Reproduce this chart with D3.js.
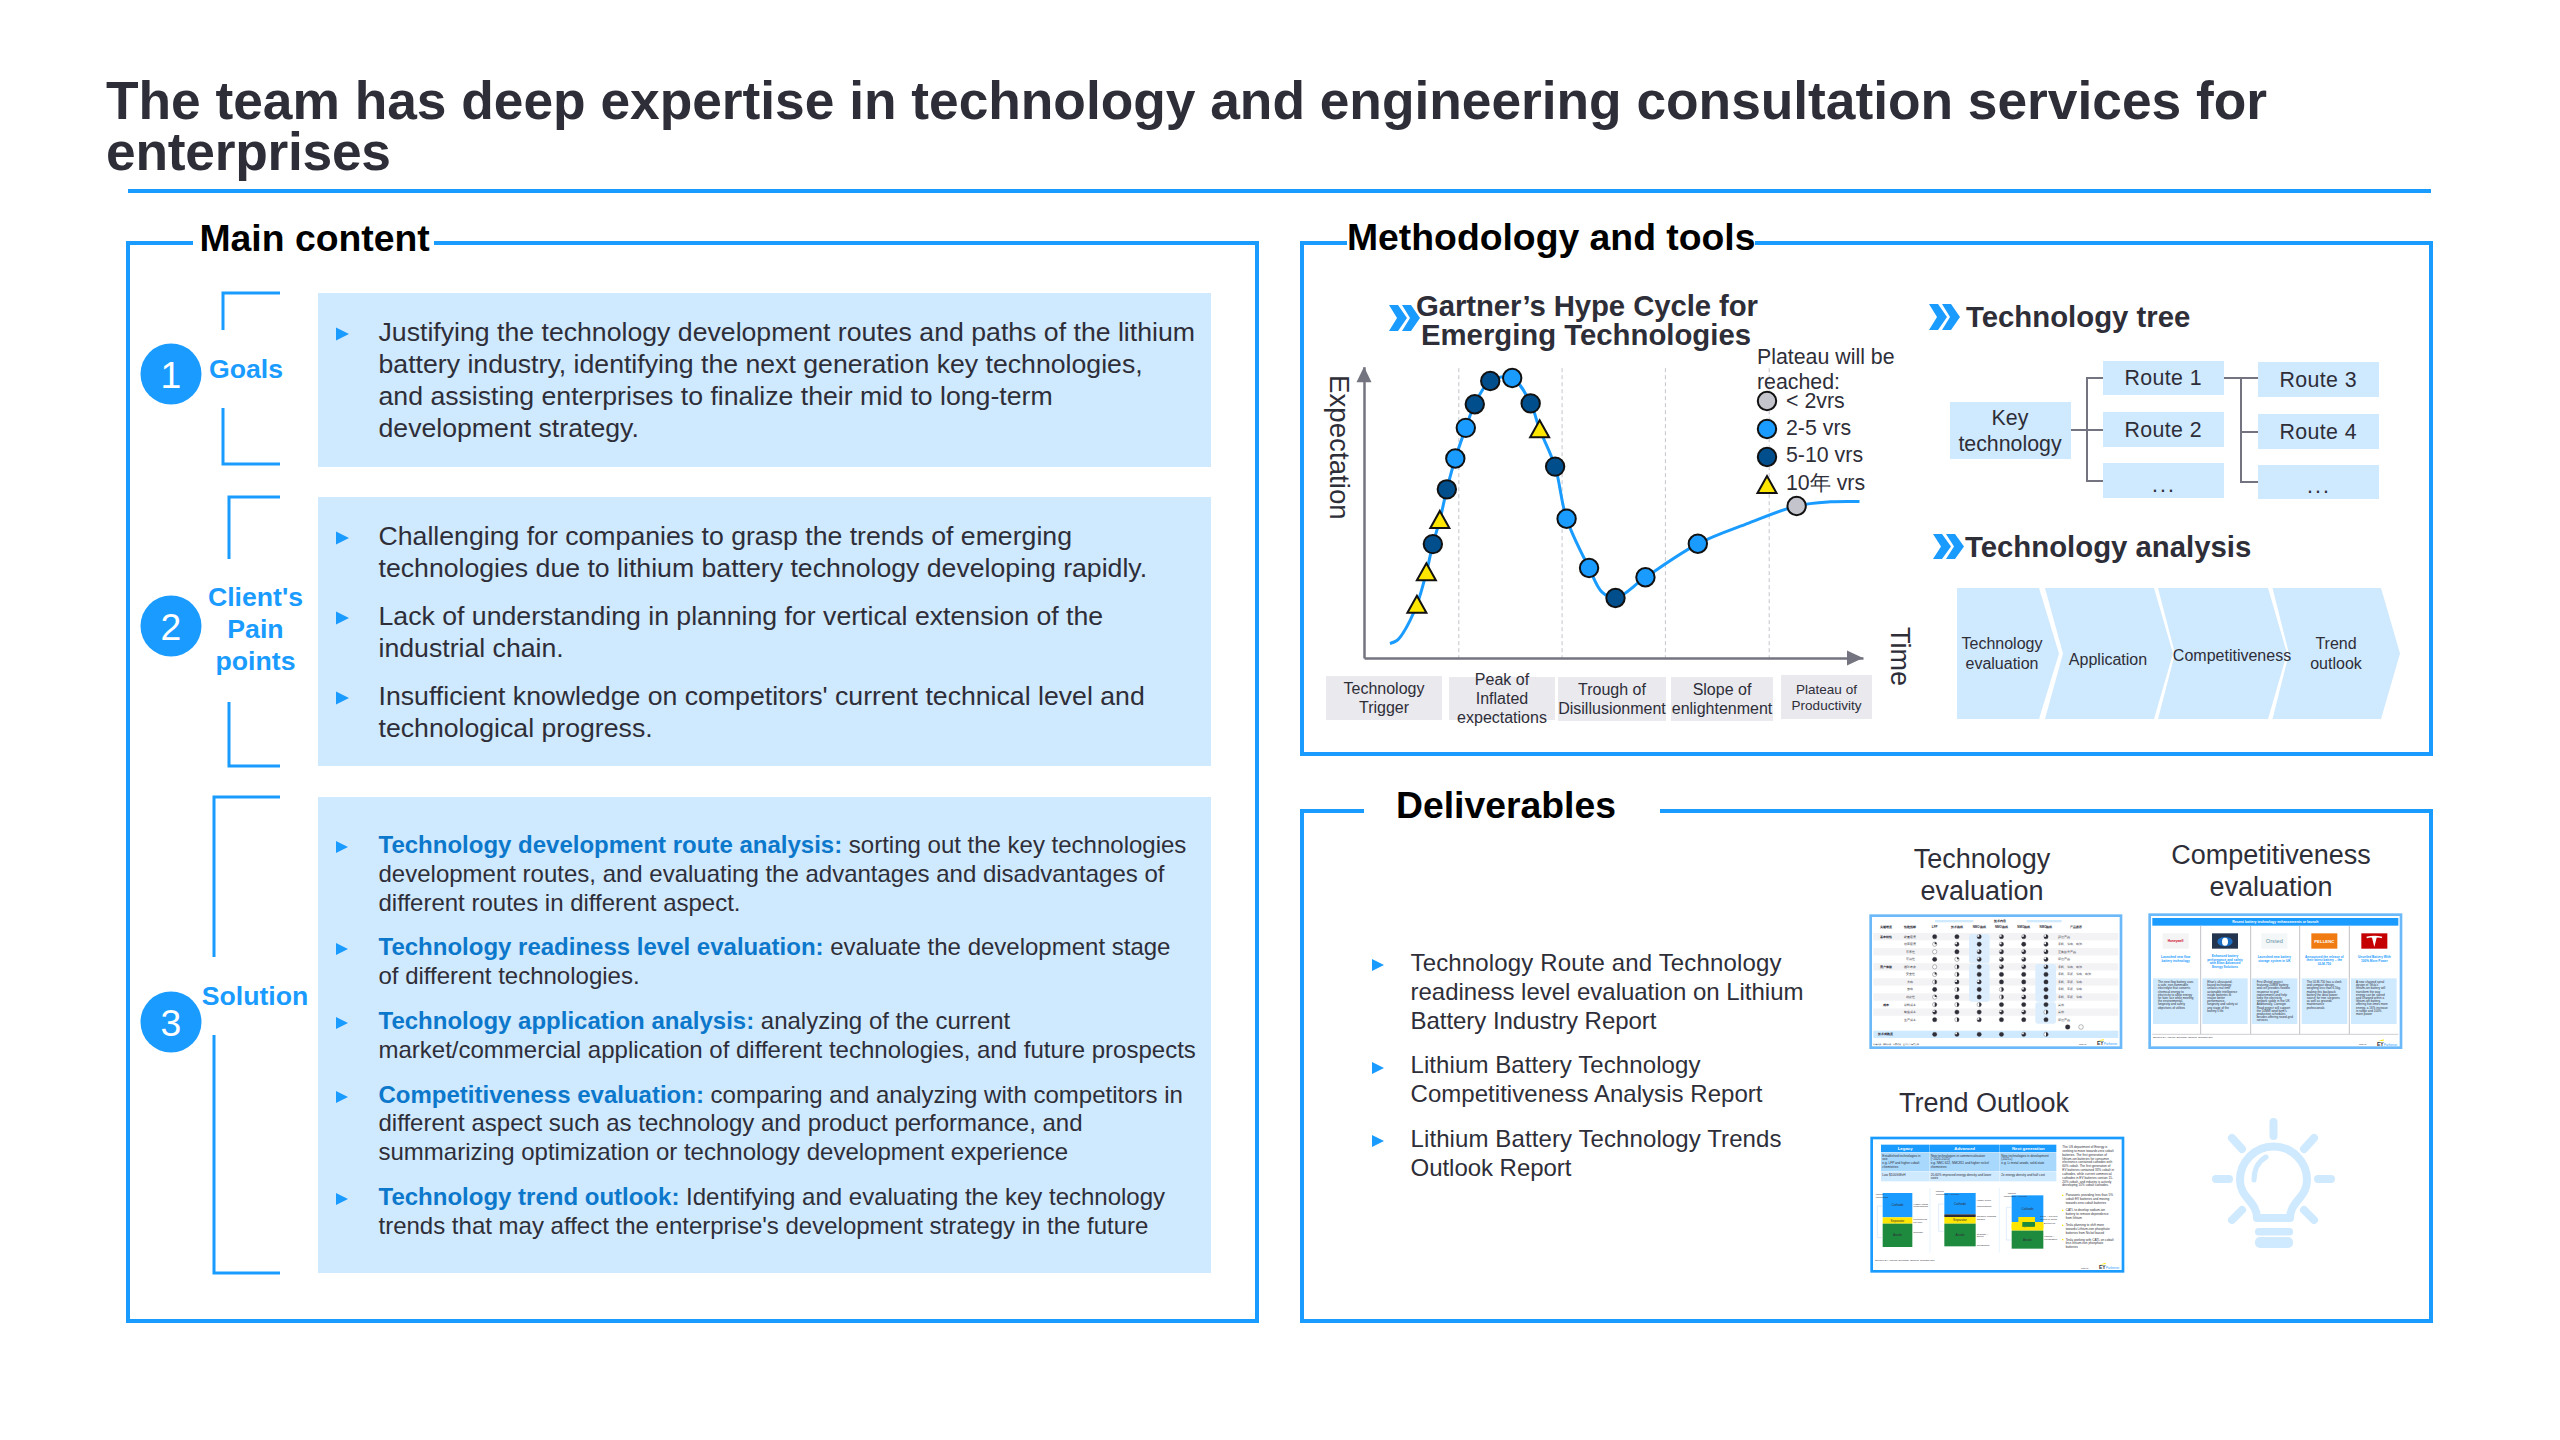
<!DOCTYPE html>
<html>
<head>
<meta charset="utf-8">
<script src="https://d3js.org/d3.v7.min.js"></script>
<style>
  html, body { margin: 0; padding: 0; background: #fff; }
  svg { display: block; }
  text { font-family: "Liberation Sans", Arial, sans-serif; fill: #2E2E38; }
</style>
</head>
<body>
<div id="chart"></div>
<script>
// ---- data ----
const titleLines = [
    "The team has deep expertise in technology and engineering consultation services for",
    "enterprises"
];
const goalLines = [
    "Justifying the technology development routes and paths of the lithium",
    "battery industry, identifying the next generation key technologies,",
    "and assisting enterprises to finalize their mid to long-term",
    "development strategy."
];
const painLines = [
    "Challenging for companies to grasp the trends of emerging",
    "technologies due to lithium battery technology developing rapidly.",
    "Lack of understanding in planning for vertical extension of the",
    "industrial chain.",
    "Insufficient knowledge on competitors' current technical level and",
    "technological progress."
];
const solutionLeads = [
    "Technology development route analysis:", "", "",
    "Technology readiness level evaluation:", "",
    "Technology application analysis:", "",
    "Competitiveness evaluation:", "", "",
    "Technology trend outlook:", ""
];
const solutionRest = [
    " sorting out the key technologies",
    "development routes, and evaluating the advantages and disadvantages of",
    "different routes in different aspect.",
    " evaluate the development stage",
    "of different technologies.",
    " analyzing of the current",
    "market/commercial application of different technologies, and future prospects",
    " comparing and analyzing with competitors in",
    "different aspect such as technology and product performance, and",
    "summarizing optimization or technology development experience",
    " Identifying and evaluating the key technology",
    "trends that may affect the enterprise's development strategy in the future"
];
const deliverableLines = [
    "Technology Route and Technology",
    "readiness level evaluation on Lithium",
    "Battery Industry Report",
    "Lithium Battery Technology",
    "Competitiveness Analysis Report",
    "Lithium Battery Technology Trends",
    "Outlook Report"
];

// hype cycle: time and expectation as % of the axes
const hypeTime   = [10.6, 12.5, 13.8, 15.2, 16.6, 18.3, 20.4, 22.2, 25.3, 29.7, 33.4, 35.2, 38.3, 40.6, 45.1, 50.4, 56.4, 66.9, 86.7];
const hypeExpect = [18.3, 29.4, 39.1, 47.4, 57.9, 68.5, 79.0, 87.1, 95.1, 96.1, 87.4, 78.5, 65.7, 47.8, 30.9, 20.6, 27.7, 39.2, 52.2];
const hypeClass  = ["d", "d", "c", "d", "c", "b", "b", "c", "c", "b", "c", "d", "c", "b", "b", "c", "b", "b", "a"];
const curveTime   = [5.2, 6.6, 7.8, 10.6, 12.5, 13.8, 15.2, 16.6, 18.3, 20.4, 22.2, 25.3, 29.7, 33.4, 35.2, 38.3, 40.6, 45.1, 47.7, 50.4, 56.4, 66.9, 77.1, 86.7, 93.5, 99.3];
const curveExpect = [5.0, 6.0, 8.5, 18.3, 29.4, 39.1, 47.4, 57.9, 68.5, 79.0, 87.1, 95.1, 96.1, 87.4, 78.5, 65.7, 47.8, 30.9, 22.6, 20.6, 27.7, 39.2, 46.3, 52.2, 53.6, 53.7];
const phaseBounds = [19, 39.7, 60.4, 81.2];
const legendTitle = ["Plateau will be", "reached:"];
const legendClasses = ["a", "b", "c", "d"];
const legendLabels = ["< 2vrs", "2-5 vrs", "5-10 vrs", "10年 vrs"];
const phaseLabels = [
    ["Technology", "Trigger"],
    ["Peak of", "Inflated", "expectations"],
    ["Trough of", "Disillusionment"],
    ["Slope of", "enlightenment"],
    ["Plateau of", "Productivity"]
];
const chevronLabels = [["Technology", "evaluation"], ["Application"], ["Competitiveness"], ["Trend", "outlook"]];

// thumbnail 1: harvey balls, 0-4 quarters filled
const harveyCols = ["LFP", "技术路线", "NMO路线", "NMO路线", "NMO路线", "NMO路线"];
const harveyRows = ["能量密度", "功率密度", "可靠性", "可用性", "循环寿命", "安全性", "充电", "放电", "稳定性", "材料成本", "制造成本", "生产成本", "技术成熟度"];
const harveyLevels = [
    [4, 4, 3, 3, 3, 3],
    [1, 3, 4, 3, 4, 3],
    [0, 4, 3, 3, 3, 3],
    [4, 1, 3, 3, 3, 3],
    [0, 2, 4, 3, 3, 3],
    [1, 2, 4, 4, 4, 4],
    [2, 3, 3, 4, 4, 4],
    [4, 2, 4, 2, 3, 4],
    [1, 4, 4, 2, 3, 4],
    [2, 2, 2, 4, 4, 4],
    [3, 4, 4, 3, 3, 2],
    [4, 2, 3, 4, 4, 4],
    [4, 3, 4, 4, 3, 2]
];
const harveyUse = ["評估产品", "手机、笔电、电池", "更换提升产品", "评估产品", "手机、笔电、电池", "手机、平板、笔电、电池", "手机、平板、笔电", "手机、平板、笔电", "手机、平板、笔电", "其他", "其他", "评估产品", ""];

// thumbnail 2
const vendorHeads = [
    ["Launched new flow", "battery technology"],
    ["Enhanced battery", "performance and safety", "with Eltan Advanced", "Energy Solutions"],
    ["Launched new battery", "storage system in UK"],
    ["Announced the release of", "their latest battery – the", "ULM-750"],
    ["Unveiled Battery With", "100% More Power"]
];
const vendorBodies = [
    ["The new flow battery uses", "a safe, non-flammable", "electrolyte that converts", "chemical energy to", "electricity to allow energy", "for later use while meeting", "the environmental,", "longevity and safety", "objectives of utilities"],
    ["Eltan's ultrasound-", "based technology", "unlocks real time", "actionable intelligence", "inside batteries to", "realize better", "performance,", "longevity and safety at", "any stage of the", "battery's life"],
    ["First Ørsted project", "featuring 20MW battery", "and cell provides flexible", "response to grid", "requirements and help", "keep the electricity", "network stable in the UK", "Additionally, Carnegie", "Road project will support", "the 50MW wind farm's", "production schedules", "besides offering round-grid", "services"],
    ["The ULM-750 has a sleek", "and compact design,", "weighing less than 6.5kg,", "making this backpack", "battery the ideal power", "source for tree surgeons", "as well as grounds", "maintenance", "professionals"],
    ["A new charged spiral", "design of Tesla's", "lithium-ion battery will", "transform the way", "energy can be stored", "and charged within a", "lithium-ion battery,", "offering five-times more", "energy, a 16% increase", "in range and 100%", "more power"]
];

// thumbnail 3
const trendHeads = ["Legacy", "Advanced", "Next generation"];
const trendRow1 = [
    ["Established technologies in", "use", "e.g. LFP and higher cobalt", "chemistries"],
    ["New technologies in commercialisation", "(~2020-2025)", "e.g. NMC 622, NMC811 and higher nickel", "chemistries"],
    ["New technologies in development", "(2025+)", "e.g. Li metal anode, solid-state"]
];
const trendRow2 = [
    ["Low $100/kWeH"],
    ["20-60% improved energy density and lower", "costs"],
    ["2x energy density and half cost"]
];
const trendText = [
    "The US department of Energy is", "seeking to move towards zero cobalt", "batteries. The first generation of",
    "lithium-ion batteries for consumer", "electronics contained cathodes with", "60% cobalt. The first generation of",
    "EV batteries contained 33% cobalt in", "cathodes, while current commercial", "cathodes in EV batteries contain 15-",
    "20% cobalt, and industry is actively", "developing 10% cobalt cathodes."
];
const trendBullets = [
    ["Panasonic providing less than 5%", "cobalt EV batteries and moving", "towards zero cobalt batteries"],
    ["CATL to develop sodium-ion", "battery to remove dependence", "from lithium"],
    ["Tesla planning to shift more", "towards Lithium-iron phosphate", "batteries from Nickel based"],
    ["Tesla working with CATL on cobalt", "less lithium-iron phosphate", "batteries"]
];

// ---- colours ----
const blue = "#1A9BFF";
const pale = "#CFE9FE";
const ink = "#2E2E38";
const steel = "#747480";
const leadBlue = "#0C78CC";
const band = "#E9E9EE";

const svg = d3.select("#chart").append("svg")
    .attr("width", 2560)
    .attr("height", 1440)
    .attr("viewBox", "0 0 2560 1440");

// ---- small helpers ----
function txt(parent, x, y, str, size, opts = {}) {
    const t = parent.append("text")
        .attr("x", x)
        .attr("y", y)
        .attr("font-size", size)
        .attr("font-weight", opts.bold ? 700 : 400)
        .attr("text-anchor", opts.anchor || "start")
        .style("fill", opts.fill || ink)
        .text(str);
    if (opts.length) t.attr("textLength", opts.length).attr("lengthAdjust", "spacing");
    return t;
}

function centered(parent, x, ys, lines, size, opts = {}) {
    lines.forEach((l, i) => txt(parent, x, ys[i], l, size, { ...opts, anchor: "middle" }));
}

function bullet(parent, x, cy, w, h) {
    parent.append("path")
        .attr("d", `M${x},${cy - h / 2}L${x + w},${cy}L${x},${cy + h / 2}Z`)
        .attr("fill", blue);
}

function doubleChevron(parent, x, y, h) {
    [0, 13].forEach(dx => {
        const x0 = x + dx;
        parent.append("path")
            .attr("d", `M${x0},${y}h9l9,${h / 2}l-9,${h / 2}h-9l8,${-h / 2}Z`)
            .attr("fill", blue);
    });
}

function polyline(parent, pts, color, width) {
    parent.append("path")
        .attr("d", d3.line()(pts))
        .attr("fill", "none")
        .attr("stroke", color)
        .attr("stroke-width", width);
}

// ---- title ----
txt(svg, 106, 119, titleLines[0], 53.33, { bold: true, length: 2161 });
txt(svg, 106, 170, titleLines[1], 53.33, { bold: true, length: 285 });
polyline(svg, [[128, 191], [2431, 191]], blue, 4);

// ---- framed sections: rectangle with a heading breaking the top line ----
function frame(x0, y0, x1, y1, label, labelX, gapX0, gapX1, baseline) {
    svg.append("rect")
        .attr("x", x0).attr("y", y0)
        .attr("width", x1 - x0).attr("height", y1 - y0)
        .attr("fill", "none")
        .attr("stroke", blue)
        .attr("stroke-width", 4);
    svg.append("rect")
        .attr("x", gapX0).attr("y", y0 - 4)
        .attr("width", gapX1 - gapX0).attr("height", 8)
        .attr("fill", "#fff");
    txt(svg, labelX, baseline, label, 37.33, { bold: true, fill: "#000" });
}
frame(128, 243, 1257, 1321, "Main content", 199.5, 193, 434, 250.5);
frame(1302, 243, 2431, 754, "Methodology and tools", 1347, 1347, 1755, 250);
frame(1302, 811, 2431, 1321, "Deliverables", 1396, 1364, 1660, 818);

// ---- left column ----
const panelX0 = 318, panelX1 = 1211;
[[293, 467], [497, 766], [797, 1273]].forEach(([a, b]) => {
    svg.append("rect")
        .attr("x", panelX0).attr("y", a)
        .attr("width", panelX1 - panelX0).attr("height", b - a)
        .attr("fill", pale);
});

function bracket(x, top, topEnd, lowStart, bottom) {
    polyline(svg, [[280, top], [x, top], [x, topEnd]], blue, 3);
    polyline(svg, [[x, lowStart], [x, bottom], [280, bottom]], blue, 3);
}
bracket(223, 293, 330, 408, 464);
bracket(229, 497, 559, 702, 766);
bracket(214, 797, 957, 1035, 1273);

[[374, "1"], [626, "2"], [1022, "3"]].forEach(([cy, n]) => {
    svg.append("circle").attr("cx", 171).attr("cy", cy).attr("r", 30.5).attr("fill", blue);
    txt(svg, 171, cy + 13.5, n, 37.33, { anchor: "middle", fill: "#fff" });
});

txt(svg, 246, 378, "Goals", 26.67, { bold: true, anchor: "middle", fill: blue });
centered(svg, 255.5, [606, 638, 670], ["Client's", "Pain", "points"], 26.67, { bold: true, fill: blue });
txt(svg, 255, 1005, "Solution", 26.67, { bold: true, anchor: "middle", fill: blue });

const bodyX = 378.5;
[341, 373, 405, 437].forEach((y, i) => txt(svg, bodyX, y, goalLines[i], 26.67));
[545, 577, 625, 657, 705, 737].forEach((y, i) => txt(svg, bodyX, y, painLines[i], 26.67));
[334, 538, 618, 698].forEach(cy => bullet(svg, 336, cy, 13, 13));

[853, 882, 911, 955, 984, 1029, 1058, 1103, 1131, 1160, 1205, 1234].forEach((y, i) => {
    const t = svg.append("text")
        .attr("x", bodyX).attr("y", y)
        .attr("font-size", 24)
        .attr("xml:space", "preserve")
        .style("white-space", "pre");
    if (solutionLeads[i]) {
        t.append("tspan").attr("font-weight", 700).style("fill", leadBlue).text(solutionLeads[i]);
    }
    t.append("tspan").style("fill", ink).text(solutionRest[i]);
});
[847, 949, 1023, 1097, 1199].forEach(cy => bullet(svg, 336, cy, 12, 12));

// ---- hype cycle ----
const xTime = d3.scaleLinear().domain([0, 100]).range([1364, 1863]);
const yExp = d3.scaleLinear().domain([0, 100]).range([658, 366.7]);
const markerFill = d3.scaleOrdinal().domain(legendClasses).range(["#C4C4CD", blue, "#004F8C", "#FFE600"]);

doubleChevron(svg, 1389, 305, 26);
txt(svg, 1416, 315.5, "Gartner’s Hype Cycle for", 29.33, { bold: true, length: 342 });
txt(svg, 1421, 344.5, "Emerging Technologies", 29.33, { bold: true, length: 330 });

const hype = svg.append("g");

phaseBounds.forEach(t => {
    hype.append("line")
        .attr("x1", xTime(t)).attr("x2", xTime(t))
        .attr("y1", yExp(99.5)).attr("y2", yExp(0))
        .attr("stroke", "#C4C4CD")
        .attr("stroke-width", 1)
        .attr("stroke-dasharray", "4,3");
});

// axes carry no ticks, only the domain line
const xAxisG = hype.append("g").attr("transform", `translate(0,${yExp(0)})`)
    .call(d3.axisBottom(xTime).tickValues([]).tickSize(0).tickSizeOuter(0));
const yAxisG = hype.append("g").attr("transform", `translate(${xTime(0)},0)`)
    .call(d3.axisLeft(yExp).tickValues([]).tickSize(0).tickSizeOuter(0));
[xAxisG, yAxisG].forEach(g => g.select(".domain").attr("stroke", steel).attr("stroke-width", 2.5));
// arrow heads end where the axes end
hype.append("path")
    .attr("d", `M${xTime(100) - 16},${yExp(0) - 7.5}l16,7.5l-16,7.5Z`)
    .attr("fill", steel);
hype.append("path")
    .attr("d", `M${xTime(0) - 7.5},${yExp(100) + 15.5}l7.5,-15.5l7.5,15.5Z`)
    .attr("fill", steel);

hype.append("path")
    .attr("d", d3.line()
        .x((d, i) => xTime(curveTime[i]))
        .y((d, i) => yExp(curveExpect[i]))
        .curve(d3.curveCatmullRom.alpha(0.5))(curveTime))
    .attr("fill", "none")
    .attr("stroke", blue)
    .attr("stroke-width", 3);

function marker(parent, cx, cy, cls) {
    if (cls === "d") {
        parent.append("path")
            .attr("d", `M${cx},${cy - 9}L${cx + 9.5},${cy + 8}L${cx - 9.5},${cy + 8}Z`)
            .attr("fill", markerFill(cls))
            .attr("stroke", "#111")
            .attr("stroke-width", 2)
            .attr("stroke-linejoin", "miter");
    } else {
        parent.append("circle")
            .attr("cx", cx).attr("cy", cy).attr("r", 9.2)
            .attr("fill", markerFill(cls))
            .attr("stroke", "#111")
            .attr("stroke-width", 2);
    }
}
hypeTime.forEach((t, i) => marker(hype, xTime(t), yExp(hypeExpect[i]), hypeClass[i]));

// legend
txt(hype, 1757, 364, legendTitle[0], 21.33);
txt(hype, 1757, 389, legendTitle[1], 21.33);
[[401, 408], [429, 435], [457, 462], [485, 490]].forEach(([cy, base], i) => {
    marker(hype, 1767, cy, legendClasses[i]);
    txt(hype, 1786, base, legendLabels[i], 21.33);
});

// rotated axis titles
txt(hype, 0, 0, "Expectation", 27.7).attr("transform", "translate(1330,375) rotate(90)");
txt(hype, 0, 0, "Time", 27).attr("transform", "translate(1891,627) rotate(90)");

// phase boxes
const phaseBoxes = [[1326, 1442, 676, 720], [1449, 1555, 677, 720], [1558, 1666, 677, 721], [1671, 1773, 677, 721], [1781, 1872, 675, 719]];
const phaseBase = [[694, 713], [685, 704, 723], [695, 714], [695, 714], [694, 710]];
phaseBoxes.forEach((b, i) => {
    hype.append("rect")
        .attr("x", b[0]).attr("y", b[2])
        .attr("width", b[1] - b[0]).attr("height", b[3] - b[2])
        .attr("fill", band);
    centered(hype, (b[0] + b[1]) / 2, phaseBase[i], phaseLabels[i], i === 4 ? 13.5 : 16);
});

// ---- technology tree ----
doubleChevron(svg, 1929, 304, 26);
txt(svg, 1966, 327, "Technology tree", 29.33, { bold: true });

function treeBox(x0, x1, y0, y1) {
    svg.append("rect")
        .attr("x", x0).attr("y", y0)
        .attr("width", x1 - x0).attr("height", y1 - y0)
        .attr("fill", pale);
}
polyline(svg, [[2071, 430], [2103, 430]], steel, 2);
polyline(svg, [[2103, 378], [2087, 378], [2087, 481], [2103, 481]], steel, 2);
polyline(svg, [[2224, 378], [2258, 378]], steel, 2);
polyline(svg, [[2258, 432], [2241, 432]], steel, 2);
polyline(svg, [[2241, 378], [2241, 482], [2258, 482]], steel, 2);

treeBox(1950, 2071, 402, 459);
centered(svg, 2010, [425, 451], ["Key", "technology"], 21.33);
treeBox(2103, 2224, 361, 395);
treeBox(2103, 2224, 412, 447);
treeBox(2103, 2224, 463, 498);
treeBox(2258, 2379, 362, 397);
treeBox(2258, 2379, 414, 449);
treeBox(2258, 2379, 465, 499);
txt(svg, 2163, 385, "Route 1", 21.33, { anchor: "middle", length: 77 });
txt(svg, 2163, 437, "Route 2", 21.33, { anchor: "middle", length: 77 });
txt(svg, 2163, 492, "...", 21.33, { anchor: "middle", length: 22 });
txt(svg, 2318, 387, "Route 3", 21.33, { anchor: "middle", length: 77 });
txt(svg, 2318, 439, "Route 4", 21.33, { anchor: "middle", length: 77 });
txt(svg, 2318, 493, "...", 21.33, { anchor: "middle", length: 22 });

// ---- technology analysis ----
doubleChevron(svg, 1933, 534, 25);
txt(svg, 1965, 557, "Technology analysis", 29.33, { bold: true });

const chevTop = 588, chevBot = 719, chevMid = 653.5;
const chevShapes = [
    [1957, 1957, 2039, 2059],
    [2045, 2063, 2154, 2173],
    [2158, 2175, 2268, 2287],
    [2272.5, 2289, 2381, 2400]
];
chevShapes.forEach(([a, notch, b, tip]) => {
    svg.append("path")
        .attr("d", `M${a},${chevTop}L${b},${chevTop}L${tip},${chevMid}L${b},${chevBot}L${a},${chevBot}L${notch},${chevMid}Z`)
        .attr("fill", pale);
});
centered(svg, 2002, [649, 669], chevronLabels[0], 16);
centered(svg, 2108, [665], chevronLabels[1], 16);
centered(svg, 2232, [661], chevronLabels[2], 16);
centered(svg, 2336, [649, 669], chevronLabels[3], 16);

// ---- deliverables ----
const deliverableWidths = [371, 393, 246, 290, 352, 371, 161];
[971, 1000, 1029, 1073, 1102, 1147, 1176].forEach((y, i) => {
    txt(svg, 1410.5, y, deliverableLines[i], 24, { length: deliverableWidths[i] });
});
[965, 1068, 1141].forEach(cy => bullet(svg, 1372, cy, 12, 12));

centered(svg, 1982, [868, 900], ["Technology", "evaluation"], 27);
centered(svg, 2271, [864, 896], ["Competitiveness", "evaluation"], 27);
txt(svg, 1984, 1111.5, "Trend Outlook", 27, { anchor: "middle" });

// thumbnails are drawn at three times their size and scaled down,
// so the coordinates below follow a 795 x 435 slide
function thumb(px, py, x0, y0, x1, y1, color) {
    const g = svg.append("g").attr("transform", `translate(${px},${py}) scale(${1 / 3})`);
    g.append("rect")
        .attr("x", x0).attr("y", y0)
        .attr("width", x1 - x0).attr("height", y1 - y0)
        .attr("fill", "#fff")
        .attr("stroke", color)
        .attr("stroke-width", 8);
    return g;
}
function tinyBlock(g, x, y, lines, size, step, opts = {}) {
    lines.forEach((l, i) => txt(g, x, y + i * step, l, size, opts));
}
function eyLogo(g, x, y) {
    txt(g, x, y, "EY", 15, { bold: true });
    txt(g, x + 21, y, "Parthenon", 8.5, { fill: blue });
    g.append("path").attr("d", `M${x + 2},${y - 13}L${x + 20},${y - 19}L${x + 20},${y - 15}Z`).attr("fill", "#FFE600");
}

// thumbnail 1: technology evaluation table
const t1 = thumb(1865, 910, 17, 17, 768, 413, "#6BB9F8");
const colX = d3.scalePoint().domain(d3.range(6)).range([209, 543]);
const rowY = d3.scalePoint().domain(d3.range(12)).range([80, 329]);
const fillAngle = d3.scaleLinear().domain([0, 4]).range([0, 2 * Math.PI]);
const ballArc = d3.arc().innerRadius(0).outerRadius(6.5).startAngle(0);

d3.range(12).filter(r => r % 2 === 0).forEach(r => {
    t1.append("rect").attr("x", 25).attr("y", rowY(r) - 11).attr("width", 735).attr("height", 22).attr("fill", "#F3F3F5");
});
[[312, 72, 62, 88], [312, 162, 62, 113], [511, 162, 62, 113], [511, 277, 62, 64]].forEach(([x, y, w, h]) => {
    t1.append("rect").attr("x", x).attr("y", y).attr("width", w).attr("height", h).attr("rx", 7).attr("fill", "#DCEEFD");
});
t1.append("rect").attr("x", 25).attr("y", 362).attr("width", 735).attr("height", 22).attr("fill", pale);
t1.append("rect").attr("x", 210).attr("y", 30).attr("width", 115).attr("height", 7).attr("fill", pale);
t1.append("rect").attr("x", 485).attr("y", 30).attr("width", 105).attr("height", 7).attr("fill", pale);
txt(t1, 405, 36, "技术内容", 10, { anchor: "middle", bold: true });
txt(t1, 64, 55, "关键维度", 10, { anchor: "middle", bold: true });
txt(t1, 135, 55, "性能指标", 10, { anchor: "middle", bold: true });
txt(t1, 633, 55, "产品推荐", 10, { anchor: "middle", bold: true });
harveyCols.forEach((c, i) => txt(t1, colX(i), 55, c, 9, { anchor: "middle", bold: true }));
[[0, "基本特性"], [4, "用户体验"], [9, "成本"]].forEach(([r, s]) => {
    txt(t1, 64, rowY(r) + 3, s, 10, { anchor: "middle", bold: true });
});
harveyLevels.forEach((levels, r) => {
    const y = r < 12 ? rowY(r) : 373;
    txt(t1, r < 12 ? 135 : 40, y + 3, harveyRows[r], 9.5, { anchor: r < 12 ? "middle" : "start", bold: r === 12 });
    if (harveyUse[r]) txt(t1, 580, y + 3, harveyUse[r], 9.5);
    levels.forEach((lv, c) => {
        const cell = t1.append("g").attr("transform", `translate(${colX(c)},${y})`);
        cell.append("circle").attr("r", 6.5).attr("fill", "#fff").attr("stroke", ink).attr("stroke-width", 1);
        if (lv > 0) cell.append("path").attr("d", ballArc({ endAngle: fillAngle(lv) })).attr("fill", ink);
    });
});
[[608, 1, 4], [648, 1, 0]].forEach(([x, , lv]) => {
    const cell = t1.append("g").attr("transform", `translate(${x},351)`);
    cell.append("circle").attr("r", 7).attr("fill", lv ? ink : "#fff").attr("stroke", ink).attr("stroke-width", 1);
});
txt(t1, 24, 405, "参考来源：资料来源、专家访谈、企业公开信息分析", 7);
txt(t1, 642, 405, "Page 11", 6);
eyLogo(t1, 696, 406);

// thumbnail 2: vendor news
const t2 = thumb(2145, 910, 14, 14, 768, 413, "#6BB9F8");
t2.append("rect").attr("x", 22).attr("y", 24).attr("width", 738).attr("height", 23).attr("fill", blue);
txt(t2, 391, 39, "Recent battery technology enhancements or launch", 10.5, { anchor: "middle", bold: true, fill: "#fff" });
[167, 317, 464, 613].forEach(x => polyline(t2, [[x, 47], [x, 372]], "#B4B4BC", 2.5));
polyline(t2, [[22, 373], [760, 373]], "#B4B4BC", 2);
const vendorCol = [92, 240, 388, 538, 688];
const boxX = [[24, 160], [172, 308], [320, 457], [470, 607], [618, 755]];
const logoFill = ["#F4F4F4", "#23344F", "#F4F7F8", "#F07B12", "#C40000"];
vendorCol.forEach((cx, i) => {
    t2.append("rect").attr("x", cx - 39).attr("y", 70).attr("width", 78).attr("height", 46).attr("fill", logoFill[i]);
    centered(t2, cx, vendorHeads[i].map((_, k) => (i === 1 ? 141 : i === 3 ? 143 : 145) + k * 10.5), vendorHeads[i], 9.5, { fill: blue, bold: true });
    t2.append("rect").attr("x", boxX[i][0]).attr("y", 205).attr("width", boxX[i][1] - boxX[i][0]).attr("height", 137).attr("fill", pale);
    tinyBlock(t2, boxX[i][0] + 15, 219, vendorBodies[i], 9.2, 9.6);
});
txt(t2, 92, 95, "Honeywell", 9.5, { anchor: "middle", bold: true, fill: "#D0021B" });
t2.append("ellipse").attr("cx", 240).attr("cy", 95).attr("rx", 23).attr("ry", 14).attr("fill", "#1C6FC4");
t2.append("ellipse").attr("cx", 240).attr("cy", 95).attr("rx", 9).attr("ry", 12).attr("fill", "#fff");
txt(t2, 388, 99, "Orsted", 17, { anchor: "middle", fill: "#5F8FA6" });
txt(t2, 538, 99, "PELLENC", 13, { anchor: "middle", bold: true, fill: "#fff" });
t2.append("path").attr("d", "M664,80 q24,-6 48,0 l-2,5 q-8,-3 -15,-2 l-7,28 l-7,-28 q-7,-1 -15,2 Z").attr("fill", "#fff");
txt(t2, 24, 385, "Sources: EY Analysis, Secondary Sources, Thomson One", 7);
txt(t2, 642, 406, "Page 11", 6);
eyLogo(t2, 696, 407);

// thumbnail 3: trend outlook
const t3 = thumb(1865, 1132, 20, 18, 774, 418, blue);
const trendCols = [[48, 193], [193, 405], [405, 575]];
trendCols.forEach(([a, b], i) => {
    t3.append("rect").attr("x", a).attr("y", 38).attr("width", b - a - 1).attr("height", 22).attr("fill", blue);
    t3.append("rect").attr("x", a).attr("y", 61).attr("width", b - a - 1).attr("height", 57).attr("fill", "#A8D8FC");
    t3.append("rect").attr("x", a).attr("y", 119).attr("width", b - a - 1).attr("height", 29).attr("fill", pale);
    txt(t3, (a + b) / 2, 54, trendHeads[i], 13, { anchor: "middle", bold: true, fill: "#fff" });
    tinyBlock(t3, a + 4, 74, trendRow1[i], 9.5, 11);
    tinyBlock(t3, a + 4, 131, trendRow2[i], 9.5, 11);
});
tinyBlock(t3, 592, 48, trendText, 9.5, 11.5);
trendBullets.forEach((b, i) => {
    const y0 = [193, 238, 283, 326][i];
    t3.append("rect").attr("x", 591).attr("y", y0 - 5).attr("width", 4).attr("height", 4).attr("fill", "#FFE600");
    tinyBlock(t3, 602, y0, b, 9.5, 11);
});
[[195, 168, 362], [403, 168, 362]].forEach(([x, a, b]) => polyline(t3, [[x, a], [x, b]], pale, 1.5));

// x0, x1, cathode bottom, black strip, separator bottom, anode bottom
function batteryStack(x0, x1, top, catBot, sepBot, anoBot, strip) {
    t3.append("rect").attr("x", x0).attr("y", top).attr("width", x1 - x0).attr("height", catBot - top).attr("fill", blue);
    if (strip) t3.append("rect").attr("x", x0).attr("y", catBot).attr("width", x1 - x0).attr("height", strip).attr("fill", ink);
    t3.append("rect").attr("x", x0).attr("y", catBot + strip).attr("width", x1 - x0).attr("height", sepBot - catBot - strip).attr("fill", "#FFE600");
    t3.append("rect").attr("x", x0).attr("y", sepBot).attr("width", x1 - x0).attr("height", anoBot - sepBot).attr("fill", "#1E8A3E");
    txt(t3, (x0 + x1) / 2, (top + catBot) / 2 + 3, "Cathode", 9.5, { anchor: "middle" });
    txt(t3, (x0 + x1) / 2, (catBot + strip + sepBot) / 2 + 3, "Separator", 9.5, { anchor: "middle" });
    txt(t3, (x0 + x1) / 2, (sepBot + anoBot) / 2 + 3, "Anode", 9.5, { anchor: "middle" });
}
batteryStack(53, 142, 183, 256, 275, 345, 0);
batteryStack(238, 332, 183, 247, 275, 343, 8);
batteryStack(440, 535, 190, 270, 296, 350, 0);
t3.append("path").attr("d", "M440,275H460V255H510V275H535V290H510V270H472V290H440Z").attr("fill", "#FFE600");
t3.append("rect").attr("x", 472).attr("y", 270).attr("width", 38).attr("height", 14).attr("fill", "#1E8A3E");
txt(t3, 32, 190, "Lithium", 7.5);
txt(t3, 32, 198, "carbonates", 7.5);
txt(t3, 145, 218, "Higher cobalt", 7.5);
txt(t3, 145, 226, "compositions", 7.5);
txt(t3, 145, 264, "Microporous", 7.5);
txt(t3, 145, 272, "polymer", 7.5);
txt(t3, 145, 302, "Graphite", 7.5);
txt(t3, 212, 180, "Lithium", 7.5);
txt(t3, 212, 188, "carbonates + fluoride", 7.5);
txt(t3, 335, 208, "Higher nickel", 7.5);
txt(t3, 335, 226, "compositions", 7.5);
txt(t3, 335, 254, "Ceramic coatings", 7.5);
txt(t3, 335, 264, "Thinner", 7.5);
txt(t3, 335, 308, "Graphite +", 7.5);
txt(t3, 335, 316, "silicon", 7.5);
txt(t3, 335, 342, "prelithiation", 7.5);
txt(t3, 428, 187, "Lithium", 7.5);
txt(t3, 416, 195, "carbonates + fluoride", 7.5);
txt(t3, 526, 255, "Solid + polymer", 7.5);
txt(t3, 526, 263, "hybrid or metal", 7.5);
txt(t3, 536, 276, "Electrolyte", 7.5);
txt(t3, 538, 316, "Lithium +", 7.5);
txt(t3, 538, 325, "prelithiation", 7.5);
polyline(t3, [[52, 222], [37, 222], [37, 317], [52, 317]], "#BCDDF8", 1.5);
polyline(t3, [[236, 216], [221, 216], [221, 298], [236, 298]], "#BCDDF8", 1.5);
polyline(t3, [[438, 226], [424, 226], [424, 324], [438, 324]], "#BCDDF8", 1.5);
txt(t3, 30, 388, "Sources: EY Analysis, Secondary Sources, Thomson One", 7);
txt(t3, 648, 410, "Page 11", 6);
eyLogo(t3, 702, 411);

// ---- light bulb ----
const bulb = svg.append("g").attr("fill", "none").attr("stroke", pale).attr("stroke-width", 8).attr("stroke-linecap", "round");
bulb.append("path").attr("d", "M2257,1218 C2257,1201 2240,1198 2240,1180 A33.5,33.5 0 1 1 2307,1180 C2307,1198 2290,1201 2290,1218 Z").attr("stroke-linejoin", "round");
bulb.append("path").attr("d", "M2254,1180 Q2254,1164 2266,1157").attr("stroke-width", 5);
[[2273.5, 1122, 2273.5, 1136], [2216, 1179, 2229, 1179], [2318, 1179, 2331, 1179],
 [2232, 1138, 2242, 1149], [2314, 1138, 2304, 1149], [2232, 1220, 2242, 1210], [2314, 1220, 2304, 1210]].forEach(r => {
    bulb.append("line").attr("x1", r[0]).attr("y1", r[1]).attr("x2", r[2]).attr("y2", r[3]);
});
svg.append("rect").attr("x", 2255).attr("y", 1228).attr("width", 38).attr("height", 7.5).attr("rx", 3.5).attr("fill", pale);
svg.append("rect").attr("x", 2255).attr("y", 1237).attr("width", 38).attr("height", 11).attr("rx", 5).attr("fill", pale);
</script>
</body>
</html>
